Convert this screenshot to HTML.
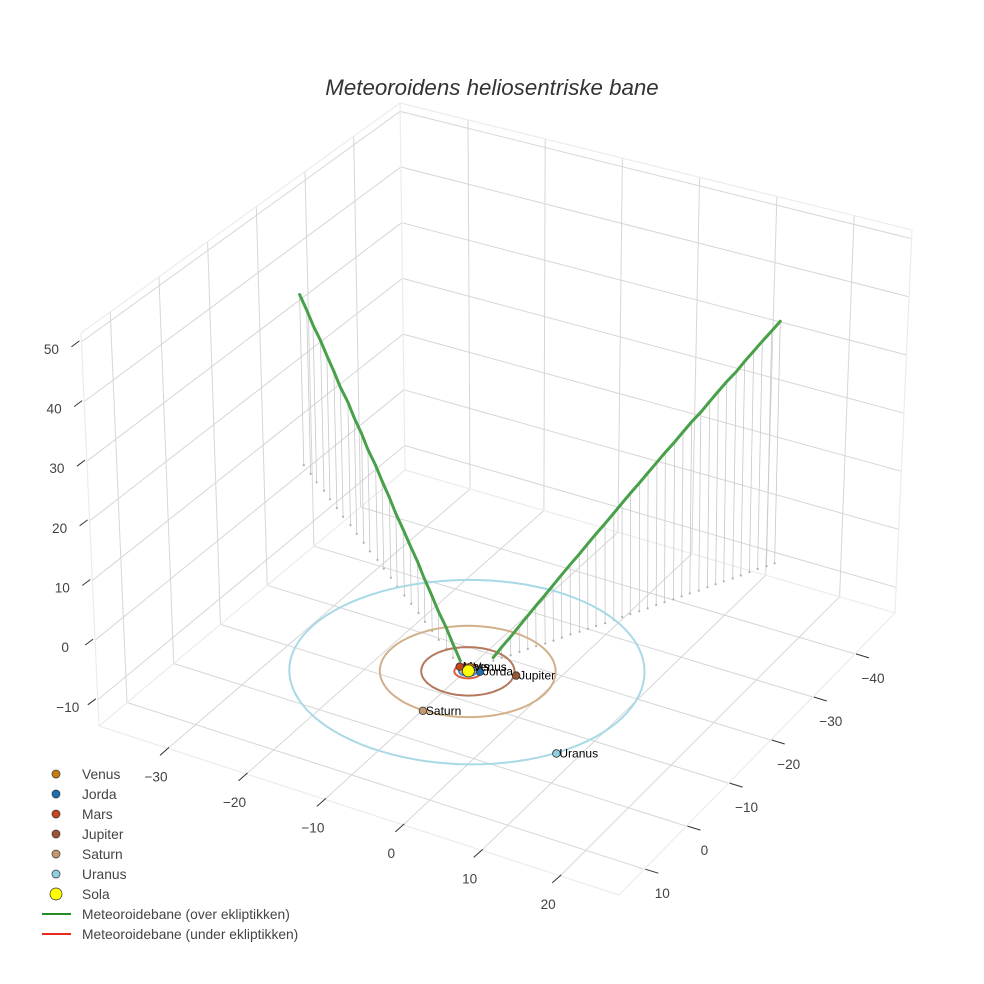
<!DOCTYPE html>
<html><head><meta charset="utf-8">
<style>
html,body{margin:0;padding:0;background:#fff;}
svg{display:block;font-family:"Liberation Sans",sans-serif;}
</style></head>
<body>
<svg id="chart" width="984" height="984" viewBox="0 0 984 984">
<text x="492" y="95" text-anchor="middle" font-size="22.3" font-style="italic" fill="#333">Meteoroidens heliosentriske bane</text>
<g id="walls"></g>
<g id="drops"></g>
<g id="orbits"></g>
<g id="path"></g>
<g id="planets"></g>
<g id="ticks"></g>
<g id="legend"></g>
</svg>
<script>
// axis ticks
const xTicks = [-30, -20, -10, 0, 10, 20];
const yTicks = [-40, -30, -20, -10, 0, 10];
const zTicks = [-10, 0, 10, 20, 30, 40, 50];
// planets
const planetNames = ["Venus", "Jorda", "Mars", "Jupiter", "Saturn", "Uranus"];
const planetX = [-0.5, 0.9, -1.6, 4.8, -0.4, 16.8];
const planetY = [-0.5, -0.2, 0.0, -1.5, 10.3, 10.6];
const orbitRadius = [0.72, 1.0, 1.52, 5.2, 9.8, 19.8];
const planetColors = ["#c77c0e", "#1f6fb0", "#c8441a", "#9c5530", "#c29a6e", "#8fcfe0"];
const orbitColors = ["#e0a050", "#4a8ccc", "#d86040", "#b4785c", "#d2b08a", "#a9d9e6"];
// meteoroid path (AU)
const leftX = [-39.5,-37.8,-36.2,-34.5,-32.9,-31.2,-29.6,-27.9,-26.3,-24.6,-23.0,-21.3,-19.7,-18.0,-16.4,-14.7,-13.1,-11.4,-9.8,-8.1,-6.5,-4.8,-3.2,-1.5];
const leftY = [-29.4,-28.1,-26.8,-25.6,-24.3,-23.0,-21.7,-20.5,-19.2,-17.9,-16.6,-15.4,-14.1,-12.8,-11.5,-10.2,-9.0,-7.7,-6.4,-5.1,-3.8,-2.6,-1.3,0.0];
const leftZ = [30.0,28.7,27.5,26.2,25.0,23.7,22.4,21.2,19.9,18.7,17.4,16.1,14.9,13.6,12.3,11.1,9.8,8.6,7.3,6.0,4.8,3.5,2.3,1.0];
const rightX = [1.0,1.5,2.1,2.6,3.1,3.6,4.2,4.7,5.2,5.7,6.3,6.8,7.3,7.9,8.4,8.9,9.4,10.0,10.5,11.0,11.5,12.1,12.6,13.1,13.7,14.2,14.7,15.2,15.8,16.3,16.8,17.3,17.9,18.4];
const rightY = [-3.0,-4.0,-5.0,-6.1,-7.1,-8.1,-9.1,-10.1,-11.1,-12.2,-13.2,-14.2,-15.2,-16.2,-17.3,-18.3,-19.3,-20.3,-21.3,-22.4,-23.4,-24.4,-25.4,-26.4,-27.4,-28.5,-29.5,-30.5,-31.5,-32.5,-33.6,-34.6,-35.6,-36.6];
const rightZ = [0.5,1.7,3.0,4.2,5.4,6.6,7.9,9.1,10.3,11.5,12.8,14.0,15.2,16.5,17.7,18.9,20.1,21.4,22.6,23.8,25.0,26.3,27.5,28.7,29.9,31.2,32.4,33.6,34.8,36.1,37.3,38.5,39.8,41.0];

const XR=[-38.8,27.5], YR=[-49.5,16], ZR=[-14.4,51.5];
const BOT={D:[405,470],C:[895,613],B:[99,726],A:[619,895]};
const TOP={D:[400,103],C:[912,230],B:[81,333],A:[610,468]};
function bil(S,u,v){
  const l=[S.D[0]+(S.B[0]-S.D[0])*v, S.D[1]+(S.B[1]-S.D[1])*v];
  const r=[S.C[0]+(S.A[0]-S.C[0])*v, S.C[1]+(S.A[1]-S.C[1])*v];
  return [l[0]+(r[0]-l[0])*u, l[1]+(r[1]-l[1])*u];
}
function P(x,y,z){
  const u=(x-XR[0])/(XR[1]-XR[0]), v=(y-YR[0])/(YR[1]-YR[0]), w=(z-ZR[0])/(ZR[1]-ZR[0]);
  const b=bil(BOT,u,v), t=bil(TOP,u,v);
  return [b[0]+(t[0]-b[0])*w, b[1]+(t[1]-b[1])*w];
}
const NS="http://www.w3.org/2000/svg";
function mk(tag,attrs,parent){const e=document.createElementNS(NS,tag);for(const k in attrs)e.setAttribute(k,attrs[k]);parent.appendChild(e);return e;}
function line(a,b,st,sw,parent,name){
  const e=mk("line",{x1:a[0].toFixed(1),y1:a[1].toFixed(1),x2:b[0].toFixed(1),y2:b[1].toFixed(1),stroke:st,"stroke-width":sw},parent);
  
  
  return e;
}
const walls=document.getElementById("walls");
const GC="#d6d6d6";
xTicks.forEach(x=>line(P(x,YR[0],ZR[0]),P(x,YR[1],ZR[0]),GC,1,walls,"floor-gridline-x"));
yTicks.forEach(y=>line(P(XR[0],y,ZR[0]),P(XR[1],y,ZR[0]),GC,1,walls,"floor-gridline-y"));
yTicks.forEach(y=>line(P(XR[0],y,ZR[0]),P(XR[0],y,ZR[1]),GC,1,walls,"left-wall-gridline-y"));
zTicks.forEach(z=>line(P(XR[0],YR[0],z),P(XR[0],YR[1],z),GC,1,walls,"left-wall-gridline-z"));
xTicks.forEach(x=>line(P(x,YR[0],ZR[0]),P(x,YR[0],ZR[1]),GC,1,walls,"back-wall-gridline-x"));
zTicks.forEach(z=>line(P(XR[0],YR[0],z),P(XR[1],YR[0],z),GC,1,walls,"back-wall-gridline-z"));
const EC="#ececec";
[[[0,0,0],[1,0,0]],[[0,0,0],[0,1,0]],[[1,0,0],[1,1,0]],[[0,1,0],[1,1,0]],
 [[0,0,0],[0,0,1]],[[1,0,0],[1,0,1]],[[0,1,0],[0,1,1]],
 [[0,0,1],[1,0,1]],[[0,0,1],[0,1,1]]].forEach(e=>{
  const f=c=>P(XR[c[0]],YR[c[1]],ZR[c[2]]);
  line(f(e[0]),f(e[1]),EC,1.2,walls,"box-edge");
});
const drops=document.getElementById("drops");
function dropSet(X,Y,Z){
  for(let i=0;i<X.length;i++){
    const a=P(X[i],Y[i],Z[i]), b=P(X[i],Y[i],0);
    line(a,b,"#c8c8c8",0.8,drops,"drop-line");
    const d=mk("circle",{cx:b[0].toFixed(1),cy:b[1].toFixed(1),r:1.1,fill:"#b0b0b0"},drops);
    
    
  }
}
dropSet(leftX,leftY,leftZ);
dropSet(rightX,rightY,rightZ);
const orbits=document.getElementById("orbits");
for(let k=0;k<orbitRadius.length;k++){
  let pts=[];
  for(let a=0;a<=96;a++){const t=a/96*2*Math.PI;const p=P(orbitRadius[k]*Math.cos(t)-0.3,orbitRadius[k]*Math.sin(t)+0.4,0);pts.push(p[0].toFixed(1)+","+p[1].toFixed(1));}
  const o=mk("polyline",{points:pts.join(" "),fill:"none",stroke:orbitColors[k],"stroke-width":2},orbits);
  
  
}
const path=document.getElementById("path");
function branch(X,Y,Z,name){
  const pts=X.map((x,i)=>{const p=P(x,Y[i],Z[i]);return p[0].toFixed(1)+","+p[1].toFixed(1);});
  const e=mk("polyline",{points:pts.join(" "),fill:"none",stroke:"#48a048","stroke-width":3,"stroke-linecap":"round"},path);
  
  
}
branch(leftX,leftY,leftZ,"path-incoming");
branch(rightX,rightY,rightZ,"path-outgoing");
const pl=document.getElementById("planets");
for(let k=planetNames.length-1;k>=0;k--){
  const p=P(planetX[k],planetY[k],0);
  const c=mk("circle",{cx:p[0].toFixed(1),cy:p[1].toFixed(1),r:3.8,fill:planetColors[k],stroke:"#333","stroke-width":0.8},pl);
  
  
  const t=mk("text",{x:(p[0]+3).toFixed(1),y:(p[1]+4).toFixed(1),"font-size":12,fill:"#000"},pl);
  t.textContent=planetNames[k];
  
  
}
const sp=P(-0.3,0.3,0);
const sun=mk("circle",{cx:sp[0].toFixed(1),cy:sp[1].toFixed(1),r:6,fill:"#ffff00",stroke:"#333","stroke-width":0.8},pl);


const tk=document.getElementById("ticks");
function lab(x,y,s,name){
  const t=mk("text",{x:x.toFixed(1),y:y.toFixed(1),"font-size":13.6,fill:"#444","text-anchor":"middle"},tk);
  t.textContent=s;
  
  
}
const fmt=v=>v<0?"\u2212"+(-v):""+v;
zTicks.forEach(z=>{const e=P(XR[0],YR[1],z);line([e[0]-2,e[1]-1],[e[0]-10,e[1]+5],"#333",1,tk,"z-tick");lab(e[0]-30,e[1]+12,fmt(z),"z-tick-label");});
xTicks.forEach(x=>{const e=P(x,YR[1],ZR[0]);line([e[0]+1,e[1]-1],[e[0]-8,e[1]+7],"#333",1,tk,"x-tick");lab(e[0]-12,e[1]+33,fmt(x),"x-tick-label");});
yTicks.forEach(y=>{const e=P(XR[1],y,ZR[0]);line([e[0]+1,e[1]],[e[0]+14,e[1]+4],"#333",1,tk,"y-tick");lab(e[0]+18,e[1]+29,fmt(y),"y-tick-label");});
const lg=document.getElementById("legend");
const legNames=planetNames.concat(["Sola"]);
const legColors=planetColors.concat(["#ffff00"]);
legNames.forEach((n,i)=>{
  const y=774+i*20;
  const c=mk("circle",{cx:56,cy:y,r:n==="Sola"?6:4,fill:legColors[i],stroke:"#333","stroke-width":0.7},lg);
  
  
  const t=mk("text",{x:82,y:y+5,"font-size":13.8,fill:"#444"},lg);
  t.textContent=n;
  
  
});
[["Meteoroidebane (over ekliptikken)","#228b22"],["Meteoroidebane (under ekliptikken)","#e8281e"]].forEach((d,i)=>{
  const y=914+i*20;
  const l=mk("line",{x1:42,y1:y,x2:71,y2:y,stroke:d[1],"stroke-width":2},lg);
  
  
  const t=mk("text",{x:82,y:y+5,"font-size":13.8,fill:"#444"},lg);
  t.textContent=d[0];
  
  
});
</script>
</body></html>
